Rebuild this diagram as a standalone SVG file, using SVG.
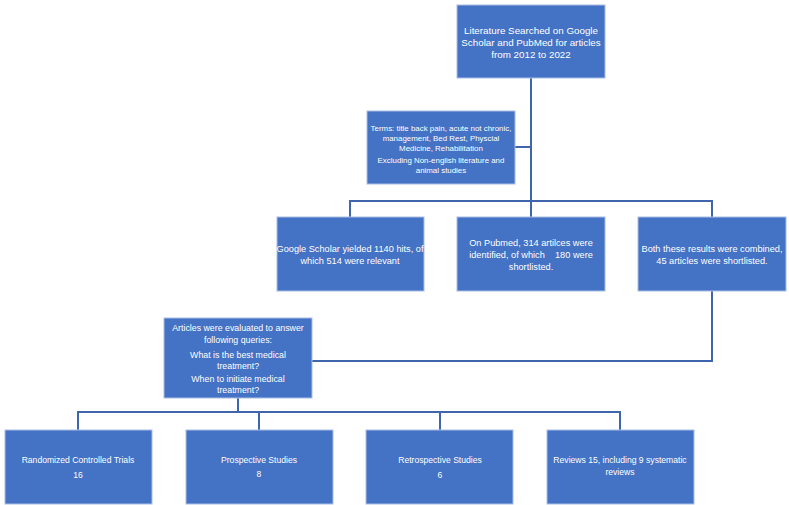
<svg xmlns="http://www.w3.org/2000/svg" width="789" height="505" viewBox="0 0 789 505">
<style>
.b{fill:#4472C4;stroke:#A9BEE4;stroke-width:1}
.t{fill:#fff;font-family:"Liberation Sans","Noto Sans",sans-serif;text-anchor:middle}
.l{fill:none;stroke:#3F65AE;stroke-width:2}
</style>
<rect width="789" height="505" fill="#fff"/>
<g id="connectors">
<path class="l" d="M531 78V201"/>
<path class="l" d="M515 147H531"/>
<path class="l" d="M350 217V201H712V217M531 201V217"/>
<path class="l" d="M712 291V361H311"/>
<path class="l" d="M238 398V412M78 430V412H620V430M259 412V430M440 412V430"/>
</g>
<g id="n1"><rect class="b" x="457" y="5" width="148" height="73"/>
<text class="t" font-size="9.8"><tspan x="531" y="34">Literature Searched on Google</tspan><tspan x="531" y="46">Scholar and PubMed for articles</tspan><tspan x="531" y="58">from 2012 to 2022</tspan></text></g>
<g id="n2"><rect class="b" x="367" y="111" width="148" height="73"/>
<text class="t" font-size="7.9"><tspan x="441" y="131">Terms: title back pain, acute not chronic,</tspan><tspan x="441" y="141">management, Bed Rest, Physcial</tspan><tspan x="441" y="151">Medicine, Rehabilitation</tspan><tspan x="441" y="163">Excluding Non-english literature and</tspan><tspan x="441" y="173">animal studies</tspan></text></g>
<g id="n3"><rect class="b" x="277" y="217" width="147" height="74"/>
<text class="t" font-size="9.2"><tspan x="350" y="252">Google Scholar yielded 1140 hits, of</tspan><tspan x="350" y="264">which 514 were relevant</tspan></text></g>
<g id="n4"><rect class="b" x="457" y="217" width="148" height="74"/>
<text class="t" font-size="9.2" style="white-space:pre"><tspan x="531" y="246">On Pubmed, 314 artilces were</tspan><tspan x="531" y="258">identified, of which    180 were</tspan><tspan x="531" y="270">shortlisted.</tspan></text></g>
<g id="n5"><rect class="b" x="638" y="217" width="148" height="74"/>
<text class="t" font-size="9.2"><tspan x="712" y="252">Both these results were combined,</tspan><tspan x="712" y="264">45 articles were shortlisted.</tspan></text></g>
<g id="n6"><rect class="b" x="164" y="318" width="148" height="80"/>
<text class="t" font-size="8.8"><tspan x="238" y="331">Articles were evaluated to answer</tspan><tspan x="238" y="343">following queries:</tspan><tspan x="238" y="358">What is the best medical</tspan><tspan x="238" y="369">treatment?</tspan><tspan x="238" y="382">When to initiate medical</tspan><tspan x="238" y="393">treatment?</tspan></text></g>
<g id="n7"><rect class="b" x="5" y="430" width="147" height="74"/>
<text class="t" font-size="8.6"><tspan x="78" y="463">Randomized Controlled Trials</tspan><tspan x="78" y="478">16</tspan></text></g>
<g id="n8"><rect class="b" x="186" y="430" width="147" height="74"/>
<text class="t" font-size="8.6"><tspan x="259" y="463">Prospective Studies</tspan><tspan x="259" y="477">8</tspan></text></g>
<g id="n9"><rect class="b" x="366" y="430" width="147" height="74"/>
<text class="t" font-size="8.6"><tspan x="440" y="463">Retrospective Studies</tspan><tspan x="440" y="478">6</tspan></text></g>
<g id="n10"><rect class="b" x="547" y="430" width="147" height="74"/>
<text class="t" font-size="8.6"><tspan x="620" y="463">Reviews 15, including 9 systematic</tspan><tspan x="620" y="475">reviews</tspan></text></g>
</svg>
